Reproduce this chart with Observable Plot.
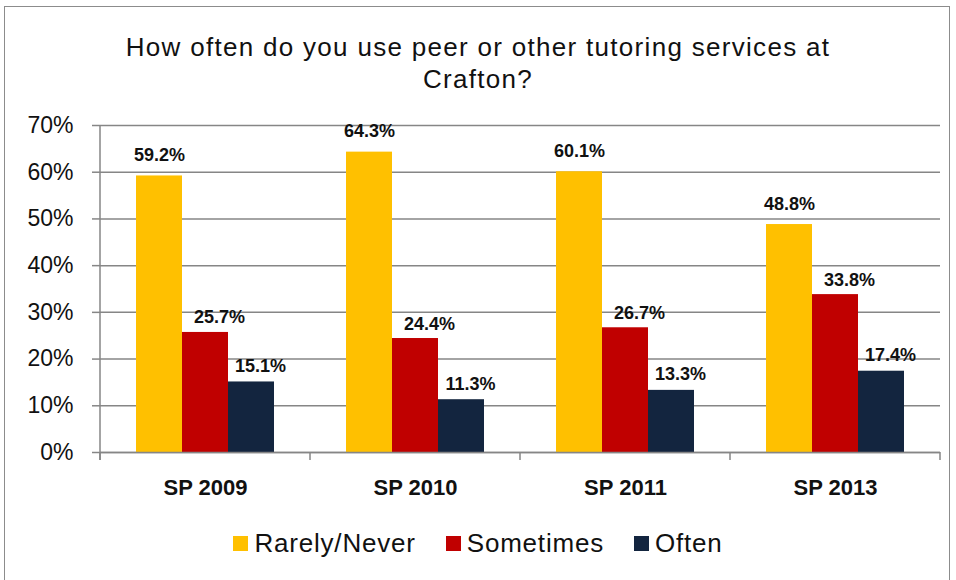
<!DOCTYPE html>
<html>
<head>
<meta charset="utf-8">
<script src="https://cdn.jsdelivr.net/npm/d3@7"></script>
<script src="https://cdn.jsdelivr.net/npm/@observablehq/plot@0.6"></script>
<style>
  body { margin: 0; background: #fff; font-family: "Liberation Sans", Arial, sans-serif; }
  #frame { position: absolute; left: 4px; top: 6px; width: 946px; height: 620px; border: 1.5px solid #8c8c8c; box-sizing: border-box; }
  #title { position: absolute; left: 0; top: 31px; width: 956px; text-align: center; font-size: 26px; letter-spacing: 1.3px; line-height: 32px; color: #111; }
  #chart { position: absolute; left: 0; top: 100px; }
  #legend { position: absolute; left: 0; top: 528px; width: 956px; display: flex; justify-content: center; align-items: center; font-size: 26px; letter-spacing: 0.8px; line-height: 30px; color: #111; }
  .item { display: flex; align-items: center; margin: 0 15px; }
  .sw { width: 15px; height: 15px; margin-right: 6px; }
</style>
</head>
<body>
<div id="frame"></div>
<div id="title">How often do you use peer or other tutoring services at<br>Crafton?</div>
<div id="chart"></div>
<div id="legend"></div>
<script>
const terms = ["SP 2009", "SP 2010", "SP 2011", "SP 2013"];
const responses = ["Rarely/Never", "Sometimes", "Often"];
const rarely = [59.2, 64.3, 60.1, 48.8];
const sometimes = [25.7, 24.4, 26.7, 33.8];
const often = [15.1, 11.3, 13.3, 17.4];
const yTicks = [0, 10, 20, 30, 40, 50, 60, 70];
const colors = ["#FFC000", "#C00000", "#13253F"];

const series = [rarely, sometimes, often];
const rows = [];
terms.forEach((t, i) => responses.forEach((r, j) => rows.push({term: t, response: r, value: series[j][i]})));

const labelStyle = {
  fx: "term", x: "response", y: "value",
  text: d => d.value.toFixed(1) + "%",
  lineAnchor: "bottom", fontWeight: "bold", fontSize: 18, fill: "#111"
};

const plot = Plot.plot({
  width: 956,
  height: 412,
  marginLeft: 99,
  marginRight: 16,
  marginTop: 25,
  marginBottom: 60,
  style: {fontFamily: "'Liberation Sans', Arial, sans-serif", background: "transparent"},
  fx: {domain: terms, padding: 0, label: null},
  x: {domain: responses, paddingInner: 0, paddingOuter: 0.78, axis: null},
  y: {domain: [0, 70], label: null},
  color: {domain: responses, range: colors},
  marks: [
    Plot.gridY(yTicks, {stroke: "#868686", strokeOpacity: 1, strokeWidth: 1.5}),
    Plot.axisY(yTicks, {tickSize: 8, tickPadding: 19, tickFormat: d => d + "%", fontSize: 23, stroke: "#868686", strokeWidth: 1.5, fill: "#111", label: null}),
    Plot.barY(rows, {fx: "term", x: "response", y: "value", fill: "response"}),
    Plot.ruleY([0], {stroke: "#868686", strokeWidth: 1.5}),
    Plot.text(rows.filter(d => d.response === "Rarely/Never"), {...labelStyle, dy: -15}),
    Plot.text(rows.filter(d => d.response === "Sometimes"), {...labelStyle, dx: 14, dy: -9}),
    Plot.text(rows.filter(d => d.response === "Often"), {...labelStyle, dx: 9, dy: -10}),
    Plot.axisFx({anchor: "bottom", tickSize: 0, tickPadding: 27, fontSize: 22, fontWeight: "bold", fill: "#111", label: null})
  ]
});
document.getElementById("chart").appendChild(plot);

// y-axis line and category boundary ticks, positioned from the plot's own scales
const fx = plot.scale("fx");
const y = plot.scale("y");
const svg = d3.select(plot);
const y0 = y.apply(0), yTop = y.apply(70);
const bounds = terms.map(t => fx.apply(t)).concat([fx.apply(terms[terms.length - 1]) + fx.step]);
const g = svg.append("g").attr("stroke", "#868686").attr("stroke-width", 1.5);
g.append("line").attr("x1", bounds[0]).attr("x2", bounds[0]).attr("y1", yTop).attr("y2", y0 + 8);
bounds.forEach(b => g.append("line").attr("x1", b).attr("x2", b).attr("y1", y0).attr("y2", y0 + 8));

const legend = d3.select("#legend");
responses.forEach((r, i) => {
  const it = legend.append("div").attr("class", "item");
  it.append("div").attr("class", "sw").style("background", colors[i]);
  it.append("span").text(r);
});
</script>
</body>
</html>
